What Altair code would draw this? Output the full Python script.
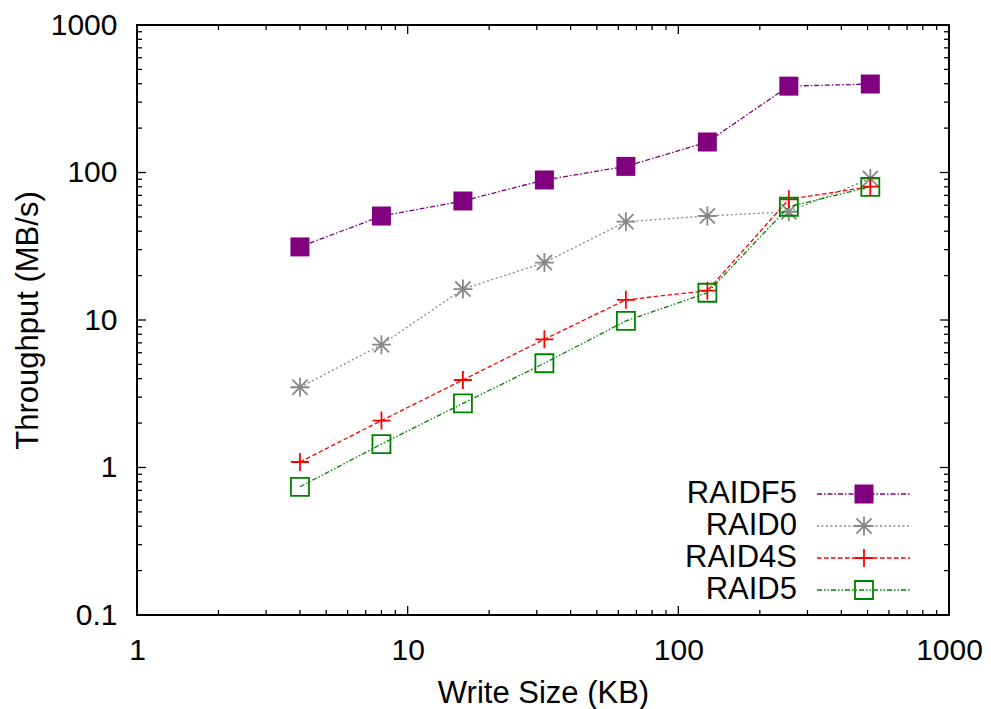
import altair as alt
import pandas as pd

# ---- data ----
write_size = [4, 8, 16, 32, 64, 128, 256, 512]
series_names = ["RAIDF5", "RAID0", "RAID4S", "RAID5"]
raidf5 = [31.3, 50.7, 64.1, 89.0, 110.0, 161.0, 385.0, 398.0]
raid0 = [3.5, 6.8, 16.2, 24.5, 46.4, 50.7, 54.2, 91.0]
raid4s = [1.09, 2.08, 3.92, 7.4, 13.7, 15.8, 65.8, 80.1]
raid5 = [0.74, 1.44, 2.72, 5.09, 9.85, 15.3, 58.6, 80.0]

x_major = [1, 10, 100, 1000]
x_minor = [2, 3, 4, 5, 6, 7, 8, 9, 20, 30, 40, 50, 60, 70, 80, 90,
           200, 300, 400, 500, 600, 700, 800, 900]
y_major = [0.1, 1, 10, 100, 1000]
y_minor = [0.2, 0.3, 0.4, 0.5, 0.6, 0.7, 0.8, 0.9,
           2, 3, 4, 5, 6, 7, 8, 9, 20, 30, 40, 50, 60, 70, 80, 90,
           200, 300, 400, 500, 600, 700, 800, 900]

# ---- styles ----
W, H = 812, 590
FONT = "Liberation Sans"
FS = 30
TFS = 31
colors = {"RAIDF5": "#800080", "RAID0": "#888888", "RAID4S": "#ff0000", "RAID5": "#008000"}
dashes = {"RAIDF5": [5, 2, 1.5, 2], "RAID0": [2, 2.5], "RAID4S": [4.5, 2.5],
          "RAID5": [5, 2, 1.5, 2, 1.5, 2]}
PLUS = "M-1,0L1,0M0,-1L0,1"
STAR = "M-1,0L1,0M0,-1L0,1M-0.8,-0.8L0.8,0.8M-0.8,0.8L0.8,-0.8"
SQ = "M-1,-1L1,-1L1,1L-1,1Z"
shapes = {"RAIDF5": "square", "RAID0": STAR, "RAID4S": PLUS, "RAID5": SQ}
filled = {"RAIDF5": True, "RAID0": False, "RAID4S": False, "RAID5": False}

values = {"RAIDF5": raidf5, "RAID0": raid0, "RAID4S": raid4s, "RAID5": raid5}
rows = []
for name in series_names:
    for xs, v in zip(write_size, values[name]):
        rows.append({"series": name, "size": xs, "tp": v})
df = pd.DataFrame(rows)

xscale = alt.Scale(type="log", domain=[1, 1000], nice=False)
yscale = alt.Scale(type="log", domain=[0.1, 1000], nice=False)

x_axis = alt.Axis(values=x_major, format="~g", ticks=False, tickSize=0, domain=False, grid=False,
                  labelFontSize=FS, labelFont=FONT, labelColor="black", labelPadding=20,
                  labelFlush=False, labelOverlap=False,
                  title="Write Size (KB)", titleFont=FONT, titleFontSize=TFS, titleFontWeight="normal",
                  titleColor="black", titleX=W / 2, titleY=87, titleBaseline="alphabetic",
                  titleAlign="center")
y_axis = alt.Axis(values=y_major, format="~g", ticks=False, tickSize=0, domain=False, grid=False,
                  labelFontSize=FS, labelFont=FONT, labelColor="black", labelPadding=20,
                  labelFlush=False, labelOverlap=False,
                  title="Throughput (MB/s)", titleFont=FONT, titleFontSize=TFS, titleFontWeight="normal",
                  titleColor="black", titleX=-100, titleY=H / 2, titleAngle=270,
                  titleBaseline="alphabetic", titleAlign="center")

X = lambda f: alt.X(f, scale=xscale, axis=x_axis)
Y = lambda f: alt.Y(f, scale=yscale, axis=y_axis)

layers = []

# tick marks (inward, on all four sides)
def xticks(vals, length):
    d = pd.DataFrame({"v": vals})
    bottom = alt.Chart(d).mark_rule(color="black", strokeWidth=1.3).encode(
        x=X("v:Q"), y=alt.value(H), y2=alt.value(H - length))
    top = alt.Chart(d).mark_rule(color="black", strokeWidth=1.3).encode(
        x=X("v:Q"), y=alt.value(0), y2=alt.value(length))
    return [bottom, top]

def yticks(vals, length):
    d = pd.DataFrame({"v": vals})
    left = alt.Chart(d).mark_rule(color="black", strokeWidth=1.3).encode(
        y=Y("v:Q"), x=alt.value(0), x2=alt.value(length))
    right = alt.Chart(d).mark_rule(color="black", strokeWidth=1.3).encode(
        y=Y("v:Q"), x=alt.value(W), x2=alt.value(W - length))
    return [left, right]

layers += xticks(x_major, 9) + xticks(x_minor, 5) + yticks(y_major, 9) + yticks(y_minor, 5)

# series
for name in series_names:
    sub = alt.Chart(df).transform_filter(alt.datum.series == name)
    line = sub.mark_line(color=colors[name], strokeWidth=1.3, strokeDash=dashes[name]).encode(
        x=X("size:Q"), y=Y("tp:Q"))
    if filled[name]:
        pts = sub.mark_point(shape=shapes[name], filled=True, size=361, color=colors[name], opacity=1)
    else:
        pts = sub.mark_point(shape=shapes[name], filled=False, size=324 if name != "RAID0" else 361,
                             color=colors[name], strokeWidth=1.8, opacity=1)
    pts = pts.encode(x=X("size:Q"), y=Y("tp:Q"))
    layers += [line, pts]

# manual legend (labels left of samples, as in the reference)
LEG_TEXT_X, LEG_L0, LEG_L1, LEG_PT = 660, 680, 773, 727
LEG_Y0, LEG_DY = 469, 32
for i, name in enumerate(series_names):
    ly = LEG_Y0 + LEG_DY * i
    ld = pd.DataFrame({"label": [name]})
    txt = alt.Chart(ld).mark_text(align="right", baseline="middle", font=FONT, fontSize=TFS,
                                  color="black").encode(
        text="label:N", x=alt.value(LEG_TEXT_X), y=alt.value(ly))
    rule = alt.Chart(ld).mark_rule(color=colors[name], strokeWidth=1.3,
                                   strokeDash=dashes[name]).encode(
        x=alt.value(LEG_L0), x2=alt.value(LEG_L1), y=alt.value(ly))
    if filled[name]:
        pt = alt.Chart(ld).mark_point(shape=shapes[name], filled=True, size=361,
                                      color=colors[name], opacity=1)
    else:
        pt = alt.Chart(ld).mark_point(shape=shapes[name], filled=False,
                                      size=324 if name != "RAID0" else 361,
                                      color=colors[name], strokeWidth=1.8, opacity=1)
    pt = pt.encode(x=alt.value(LEG_PT), y=alt.value(ly))
    layers += [txt, rule, pt]

chart = alt.layer(*layers).properties(
    width=W, height=H,
    autosize=alt.AutoSizeParams(type="none"),
    padding={"left": 137, "top": 25, "right": 42, "bottom": 94},
    background="white",
).configure_view(stroke="black", strokeWidth=2)

chart.save("out.html", embed_options={"renderer": "svg", "actions": False})
